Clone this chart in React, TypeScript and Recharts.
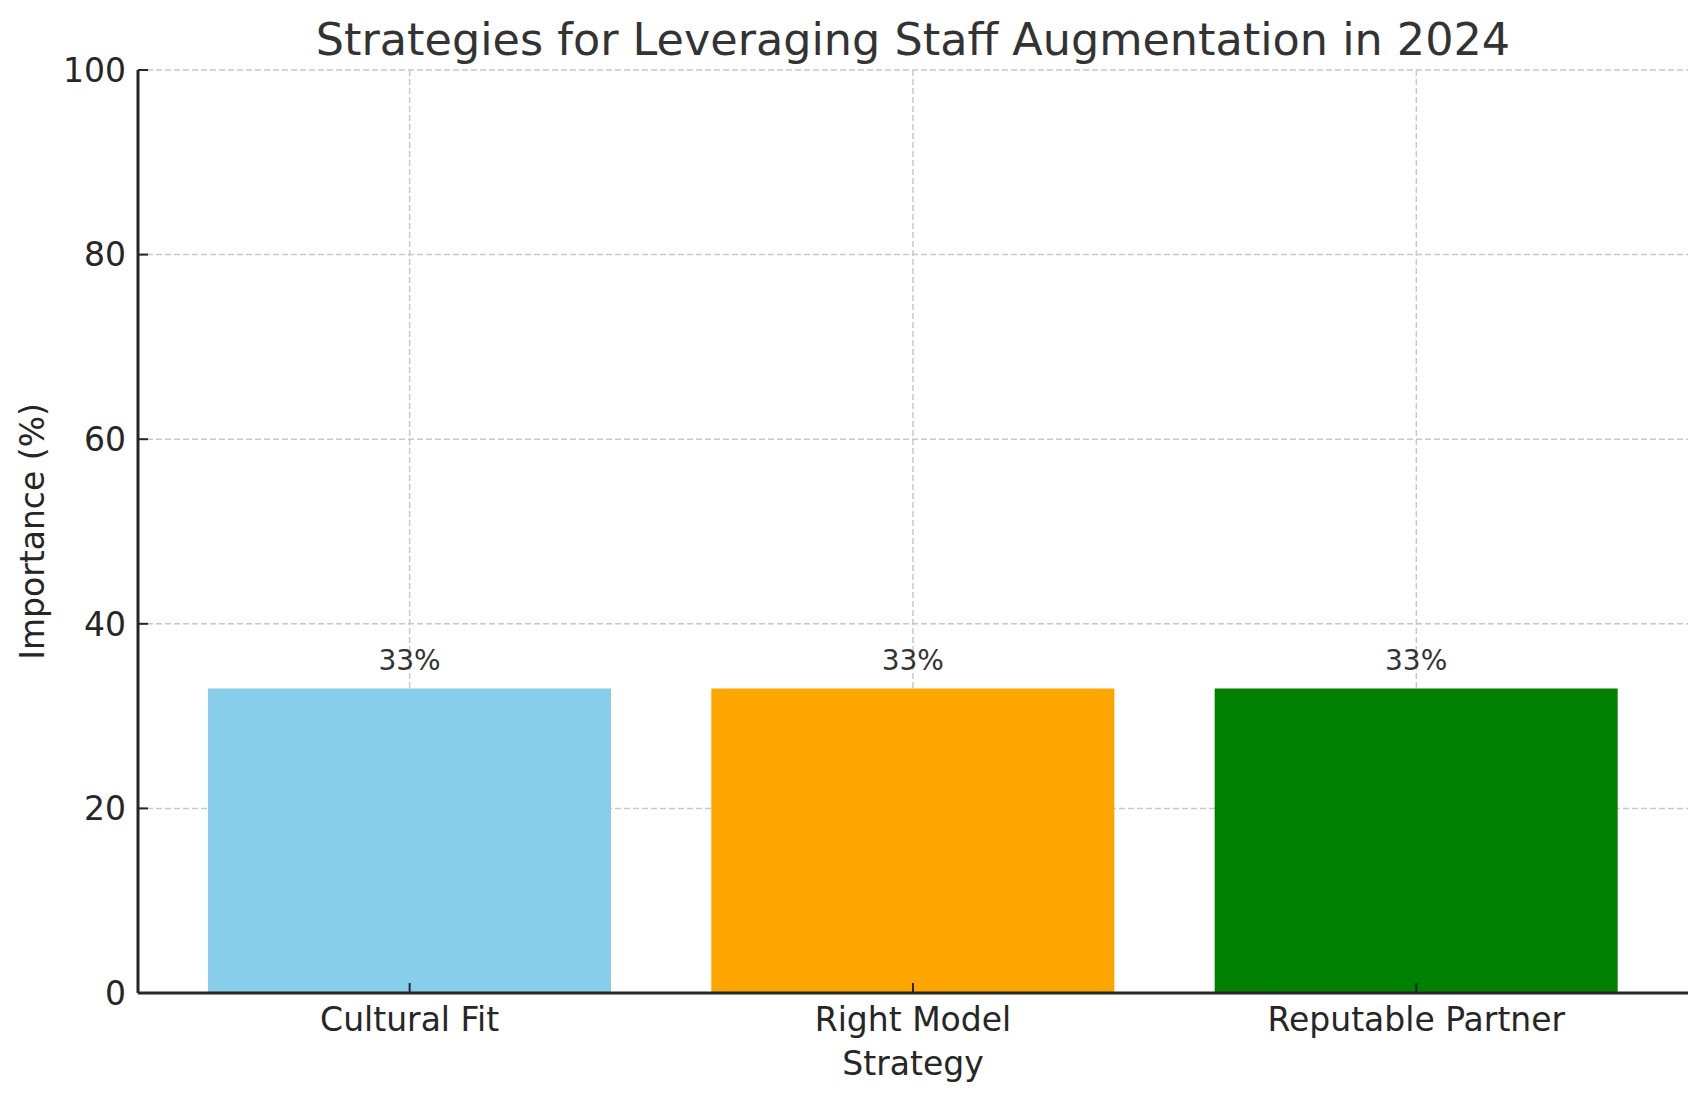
import React from 'react'
import { BarChart, Bar, XAxis, YAxis, CartesianGrid, Cell, LabelList } from 'recharts'

const strategies = ['Cultural Fit', 'Right Model', 'Reputable Partner']
const importance = [33, 33, 33]
const barColors = ['#87CEEB', '#FFA500', '#008000']
const yTicks = [0, 20, 40, 60, 80, 100]

const data = strategies.map((name, i) => ({ name, value: importance[i] }))

const FONT = '"DejaVu Sans", sans-serif'
const INK = '#262626'

export default function App() {
  return (
    <div style={{ position: 'relative', width: 1707, height: 1101, fontFamily: FONT }}>
      <style>{'body{margin:0}'}</style>
      <svg width={1707} height={80} style={{ position: 'absolute', left: 0, top: 0 }}>
        <text x={913} y={55} textAnchor="middle" fontSize={44.5} fill="#333333" fontFamily={FONT}>
          Strategies for Leveraging Staff Augmentation in 2024
        </text>
      </svg>
      <BarChart
        width={1707}
        height={1101}
        data={data}
        margin={{ top: 70, right: 19, left: 0, bottom: 58 }}
      >
        <CartesianGrid stroke="#c8c8c8" strokeWidth={1.5} strokeDasharray="6 3" syncWithTicks />
        <XAxis
          dataKey="name"
          height={50}
          padding={{ left: 20, right: 20 }}
          tickSize={-10}
          tickMargin={25}
          tick={{ fontSize: 33, fill: INK, fontFamily: FONT }}
          axisLine={{ stroke: INK, strokeWidth: 3 }}
          tickLine={{ stroke: INK, strokeWidth: 2 }}
          label={{
            value: 'Strategy',
            position: 'bottom',
            offset: 9,
            fontSize: 33,
            fill: INK,
            fontFamily: FONT,
          }}
        />
        <YAxis
          width={138}
          domain={[0, 100]}
          ticks={yTicks}
          tickSize={-10}
          tickMargin={22}
          tick={{ fontSize: 33, fill: INK, fontFamily: FONT }}
          axisLine={{ stroke: INK, strokeWidth: 3 }}
          tickLine={{ stroke: INK, strokeWidth: 2 }}
          label={{
            value: 'Importance (%)',
            angle: -90,
            position: 'insideLeft',
            offset: 32,
            textAnchor: 'middle',
            fontSize: 33,
            fill: INK,
            fontFamily: FONT,
          }}
        />
        <Bar dataKey="value" barSize={403} isAnimationActive={false}>
          {data.map((d, i) => (
            <Cell key={d.name} fill={barColors[i]} />
          ))}
          <LabelList
            dataKey="value"
            position="top"
            offset={18}
            formatter={(v: number) => `${v}%`}
            style={{ fontSize: 28, fill: '#333333', fontFamily: FONT }}
          />
        </Bar>
      </BarChart>
    </div>
  )
}
